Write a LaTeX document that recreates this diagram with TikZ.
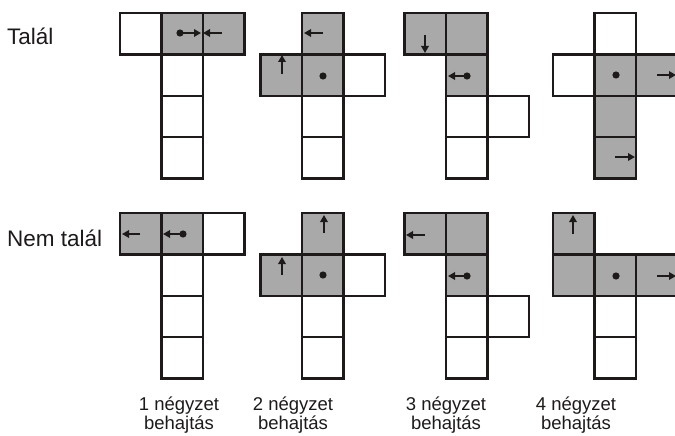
\documentclass[tikz,border=0pt]{standalone}
\usepackage{fontspec}
\setmainfont{Liberation Sans}
\usetikzlibrary{arrows.meta}
\definecolor{cellgray}{HTML}{A9A9A9}
\definecolor{ink}{HTML}{1E1A1A}
\newcommand\lblfont{\fontsize{18.5}{19}\selectfont\lineskiplimit=-30pt\relax}
\begin{document}
\begin{tikzpicture}[x=1pt,y=-1pt,
  cellbox/.style={draw=ink,line width=2.4pt,line join=miter},
  shade/.style={fill=cellgray},
  arr/.style={draw=ink,line width=1.7pt,-{Triangle[length=7pt,width=7.5pt]}},
  dotmark/.style={fill=ink},
  lbl/.style={inner sep=0pt,anchor=base,align=center,font=\lblfont,text=ink},
  side/.style={inner sep=0pt,anchor=base west,font=\fontsize{22.5}{24}\selectfont,text=ink}]
\useasboundingbox (0,0) rectangle (675,436);
\clip (0,0) rectangle (675,436);
\def\s{41.4}
% \cellat{colx}{rowy}{i}{j}{style}
\newcommand\cellat[5]{\path[#5] ({#1+(#3)*\s},{#2+(#4)*\s}) rectangle ++(\s,\s);}
% ---- top row ----
% Panel 1
\cellat{161.5}{13}{0}{0}{shade}
\cellat{161.5}{13}{1}{0}{shade}
\foreach \i/\j in {-1/0,0/0,1/0,0/1,0/2,0/3}{\cellat{161.5}{13}{\i}{\j}{cellbox}}
% Panel 2
\foreach \i/\j in {0/0,-1/1,0/1}{\cellat{302}{13}{\i}{\j}{shade}}
\foreach \i/\j in {0/0,-1/1,0/1,1/1,0/2,0/3}{\cellat{302}{13}{\i}{\j}{cellbox}}
% Panel 3
\foreach \i/\j in {-1/0,0/0,0/1}{\cellat{446}{13}{\i}{\j}{shade}}
\foreach \i/\j in {-1/0,0/0,0/1,0/2,1/2,0/3}{\cellat{446}{13}{\i}{\j}{cellbox}}
% Panel 4
\foreach \i/\j in {0/1,1/1,0/2,0/3}{\cellat{594.5}{13}{\i}{\j}{shade}}
\foreach \i/\j in {0/0,-1/1,0/1,1/1,0/2,0/3}{\cellat{594.5}{13}{\i}{\j}{cellbox}}
% ---- bottom row ----
% Panel 1
\foreach \i/\j in {-1/0,0/0}{\cellat{161.5}{213}{\i}{\j}{shade}}
\foreach \i/\j in {-1/0,0/0,1/0,0/1,0/2,0/3}{\cellat{161.5}{213}{\i}{\j}{cellbox}}
% Panel 2
\foreach \i/\j in {0/0,-1/1,0/1}{\cellat{302}{213}{\i}{\j}{shade}}
\foreach \i/\j in {0/0,-1/1,0/1,1/1,0/2,0/3}{\cellat{302}{213}{\i}{\j}{cellbox}}
% Panel 3
\foreach \i/\j in {-1/0,0/0,0/1}{\cellat{446}{213}{\i}{\j}{shade}}
\foreach \i/\j in {-1/0,0/0,0/1,0/2,1/2,0/3}{\cellat{446}{213}{\i}{\j}{cellbox}}
% Panel 4
\foreach \i/\j in {-1/0,-1/1,0/1,1/1}{\cellat{594.5}{213}{\i}{\j}{shade}}
\foreach \i/\j in {-1/0,-1/1,0/1,1/1,0/2,0/3}{\cellat{594.5}{213}{\i}{\j}{cellbox}}
% ---- marks ----
% top
\fill[dotmark] (180,33) circle (3.6pt);
\draw[arr] (180,33) -- (201,33);
\draw[arr] (222,33) -- (203,33);
\draw[arr] (323,33) -- (304,33);
\draw[arr] (282,74) -- (282,55);
\fill[dotmark] (323,76) circle (3.6pt);
\draw[arr] (425,35) -- (425,53);
\fill[dotmark] (467,76) circle (3.6pt);
\draw[arr] (467,76) -- (448,76);
\fill[dotmark] (616,75) circle (3.6pt);
\draw[arr] (657,75) -- (676,75);
\draw[arr] (615,157) -- (635,157);
% bottom
\draw[arr] (140,234) -- (122,234);
\fill[dotmark] (183,234) circle (3.6pt);
\draw[arr] (183,234) -- (163,234);
\draw[arr] (324,233) -- (324,215);
\draw[arr] (282,275) -- (282,257);
\fill[dotmark] (323,275) circle (3.6pt);
\draw[arr] (425,235) -- (406,235);
\fill[dotmark] (467,276) circle (3.6pt);
\draw[arr] (467,276) -- (448,276);
\draw[arr] (573,234) -- (573,215);
\fill[dotmark] (616,276) circle (3.6pt);
\draw[arr] (657,276) -- (676,276);
% ---- texts ----
\node[side] (talal) at (7,45) {Talál};
\node[side] (nemtalal) at (7,246) {Nem talál};
\node[lbl] (l1) at (179,429.5) {1 négyzet\\behajtás};
\node[lbl] (l2) at (293,429.5) {2 négyzet\\behajtás};
\node[lbl] (l3) at (446,429.5) {3 négyzet\\behajtás};
\node[lbl] (l4) at (576,429.5) {4 négyzet\\behajtás};
\end{tikzpicture}
\end{document}
